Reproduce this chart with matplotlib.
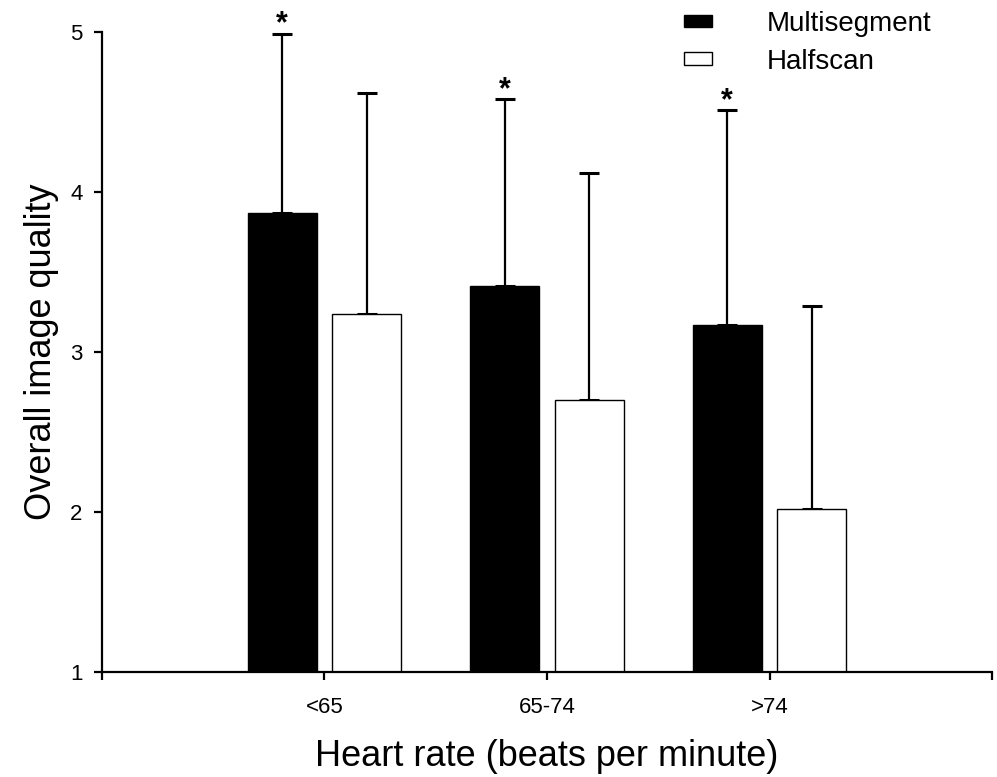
import matplotlib
matplotlib.use("Agg")
import matplotlib.pyplot as plt
import numpy as np

plt.rcParams['font.family'] = ['Liberation Sans', 'DejaVu Sans']

groups = ["<65", "65-74", ">74"]
multiseg = [3.87, 3.41, 3.17]
multiseg_sd = [1.12, 1.17, 1.34]
halfscan = [3.24, 2.70, 2.02]
halfscan_sd = [1.38, 1.42, 1.27]
signif = ["*", "*", "*"]

fig = plt.figure(figsize=(9.97, 7.77), dpi=100)
ax = fig.add_axes([0.1023, 0.1351, 0.8927, 0.8237])

x = np.arange(1, len(groups) + 1)
w = 0.31
off = 0.19

ax.bar(x - off, multiseg, w, color="black", edgecolor="black", linewidth=1,
       label="Multisegment", zorder=2)
ax.bar(x + off, halfscan, w, color="white", edgecolor="black", linewidth=1,
       label="Halfscan", zorder=2)

ax.errorbar(x - off, multiseg, yerr=[np.zeros(3), multiseg_sd], fmt="none",
            ecolor="black", elinewidth=1.6, capsize=7, capthick=2.2, zorder=1)
ax.errorbar(x + off, halfscan, yerr=[np.zeros(3), halfscan_sd], fmt="none",
            ecolor="black", elinewidth=1.6, capsize=7, capthick=2.2, zorder=1)

for xi, m, s, t in zip(x - off, multiseg, multiseg_sd, signif):
    ax.text(xi, m + s - 0.035, t, ha="center", va="bottom", fontsize=22, fontweight="bold")

ax.set_xlim(0, 4)
ax.set_ylim(1, 5)
ax.set_xticks([0, 1, 2, 3, 4])
ax.set_xticklabels([""] + groups + [""])
ax.set_yticks([1, 2, 3, 4, 5])

for s in ["top", "right"]:
    ax.spines[s].set_visible(False)
for s in ["left", "bottom"]:
    ax.spines[s].set_linewidth(1.6)
ax.tick_params(axis="both", direction="out", length=6, width=1.6, labelsize=16)
ax.tick_params(axis="x", pad=12)
ax.tick_params(axis="y", pad=8)

ax.set_xlabel("Heart rate (beats per minute)", fontsize=26, labelpad=15)
ax.set_ylabel("Overall image quality", fontsize=26, labelpad=8)

leg = fig.legend(loc="upper left", bbox_to_anchor=(670 / 997, 1 + 3 / 777), frameon=False,
                 fontsize=20, handlelength=1.0, handleheight=0.33, handletextpad=2.0,
                 labelspacing=0.42, borderpad=0)

fig.savefig("out.png", dpi=100)
